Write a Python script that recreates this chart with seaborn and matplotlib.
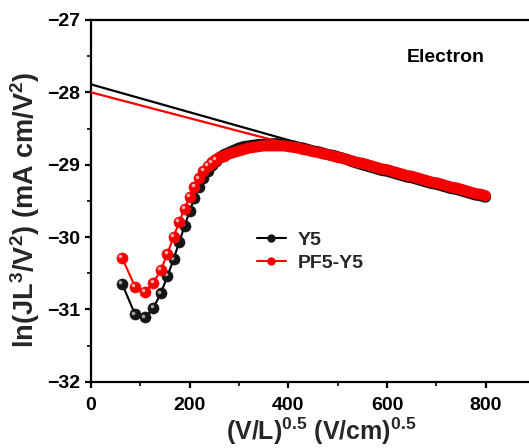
import numpy as np
import pandas as pd
import matplotlib
matplotlib.use("Agg")
import matplotlib.pyplot as plt
import matplotlib.transforms as mtransforms
from matplotlib.lines import Line2D
from matplotlib.ticker import MultipleLocator
import seaborn as sns

# sqrt(V/L) field axis, (V/cm)^0.5
field = [63.2, 89.4, 109.5, 126.5, 141.4, 154.9, 167.3, 178.9, 189.7, 200.0,
         209.8, 219.1, 228.0, 236.6, 244.9, 253.0, 260.8,
         270, 280, 290, 300, 310, 320, 330, 340, 350, 360, 370, 380, 390, 400,
         410, 420, 430, 440, 450, 460, 470, 480, 490, 500, 510, 520, 530, 540,
         550, 560, 570, 580, 590, 600, 610, 620, 630, 640, 650, 660, 670, 680,
         690, 700, 710, 720, 730, 740, 750, 760, 770, 780, 790, 800]

# ln(JL^3/V^2) for electron-only devices
y5 = [-30.65, -31.07, -31.11, -30.98, -30.78, -30.54, -30.31, -30.07, -29.85, -29.64,
      -29.46, -29.31, -29.19, -29.09, -29.01, -28.95, -28.90,
      -28.86, -28.83, -28.80, -28.77, -28.75, -28.74, -28.73, -28.72, -28.72,
      -28.71, -28.71, -28.71, -28.72, -28.73, -28.74, -28.76, -28.77, -28.79,
      -28.81, -28.82, -28.84, -28.86, -28.87, -28.89, -28.91, -28.93, -28.96,
      -28.98, -29.00, -29.02, -29.04, -29.06, -29.08, -29.09, -29.11, -29.13,
      -29.15, -29.17, -29.18, -29.20, -29.22, -29.24, -29.26, -29.27, -29.29,
      -29.31, -29.33, -29.34, -29.36, -29.38, -29.40, -29.42, -29.43, -29.45]

pf5_y5 = [-30.29, -30.69, -30.76, -30.63, -30.46, -30.23, -30.00, -29.79, -29.61, -29.45,
          -29.31, -29.19, -29.09, -29.02, -28.97, -28.93, -28.90,
          -28.88, -28.85, -28.83, -28.81, -28.79, -28.77, -28.76, -28.75, -28.74,
          -28.74, -28.74, -28.74, -28.74, -28.75, -28.76, -28.77, -28.79, -28.80,
          -28.82, -28.83, -28.85, -28.86, -28.88, -28.90, -28.91, -28.93, -28.95,
          -28.97, -28.98, -29.00, -29.02, -29.04, -29.06, -29.07, -29.09, -29.11,
          -29.13, -29.15, -29.16, -29.18, -29.20, -29.22, -29.24, -29.25, -29.27,
          -29.29, -29.31, -29.32, -29.34, -29.36, -29.38, -29.40, -29.41, -29.43]

# Poole-Frenkel linear fits (end points)
fit_x = [0, 800]
fit_y5 = [-27.89, -29.43]
fit_pf5_y5 = [-28.00, -29.43]

labels = ["Y5", "PF5-Y5"]
n_sparse = 16   # points that stay visually separate; the rest merge into a band

sns.set_style("ticks")
plt.rcParams["font.family"] = ["Liberation Sans", "DejaVu Sans"]
plt.rcParams["font.weight"] = "bold"
plt.rcParams["mathtext.fontset"] = "custom"
plt.rcParams["mathtext.rm"] = "Liberation Sans:bold"
plt.rcParams["mathtext.bf"] = "Liberation Sans:bold"
plt.rcParams["mathtext.it"] = "Liberation Sans:bold"
plt.rcParams["mathtext.default"] = "bf"

fig = plt.figure(figsize=(5.29, 4.48), dpi=100)
ax = fig.add_axes([91 / 529, 1 - 381.7 / 448, 1 - 91 / 529, (381.7 - 20) / 448])

df = pd.DataFrame({"x": field, "Y5": y5, "PF5-Y5": pf5_y5})
fit = pd.DataFrame({"x": fit_x, "Y5": fit_y5, "PF5-Y5": fit_pf5_y5})
sparse = df.iloc[:n_sparse + 2]
dense = df.iloc[n_sparse - 2:]

styles = {
    "Y5": dict(color="black", face="#161616", hi="#a0a0a0", z=3),
    "PF5-Y5": dict(color="#ff0000", face="#f40000", hi="#ffa8a8", z=5),
}

ms = 8.0
for name in labels:
    st = styles[name]
    # linear fit
    sns.lineplot(data=fit, x="x", y=name, ax=ax, color=st["color"], linewidth=1.6,
                 sort=False, estimator=None, zorder=st["z"] - 1, legend=False)
    # connecting line through all points
    sns.lineplot(data=df, x="x", y=name, ax=ax, color=st["color"], linewidth=1.5,
                 sort=False, estimator=None, zorder=st["z"], legend=False)
    # overlapping spheres at high field fuse into a solid band
    ax.plot(dense["x"], dense[name], color=st["face"], linewidth=ms,
            solid_capstyle="round", solid_joinstyle="round", zorder=st["z"])
    # separated spheres at low field
    ax.plot(sparse["x"], sparse[name], linestyle="none", marker="o", markersize=ms,
            markerfacecolor=st["face"], markeredgecolor=st["face"],
            markeredgewidth=0.4, zorder=st["z"])
    # specular spot on the separated spheres
    off = mtransforms.offset_copy(ax.transData, fig=fig, x=-1.3, y=1.3, units="points")
    ax.plot(df["x"][:n_sparse], df[name][:n_sparse], linestyle="none",
            marker="o", markersize=2.6, markerfacecolor=st["hi"],
            markeredgewidth=0, transform=off, zorder=st["z"] + 0.5)

ax.set_xlim(0, 888)
ax.set_ylim(-32, -27)
ax.xaxis.set_major_locator(MultipleLocator(200))
ax.xaxis.set_minor_locator(MultipleLocator(100))
ax.yaxis.set_major_locator(MultipleLocator(1))
ax.yaxis.set_minor_locator(MultipleLocator(0.5))

for side in ["left", "bottom", "top"]:
    ax.spines[side].set_linewidth(1.6)
    ax.spines[side].set_color("black")
ax.spines["right"].set_visible(False)

ax.tick_params(axis="both", which="major", direction="out", length=4, width=1.6,
               labelsize=14, colors="black")
ax.tick_params(axis="both", which="minor", direction="out", length=3, width=1.4)
ax.tick_params(axis="x", which="major", pad=7)
ax.tick_params(axis="y", which="major", pad=4)
ax.tick_params(top=False, right=False, which="both")
for lab in ax.get_xticklabels() + ax.get_yticklabels():
    lab.set_fontweight("bold")

ax.set_xlabel(r"(V/L)$^{0.5}$ (V/cm)$^{0.5}$", fontsize=18, fontweight="bold")
ax.set_ylabel(r"ln(JL$^3$/V$^2$) (mA cm/V$^2$)", fontsize=19.5, fontweight="bold")
ax.xaxis.set_label_coords((321 - 91) / 438, -0.095)
ax.yaxis.set_label_coords(-0.112, 0.475)

handles = [
    Line2D([], [], color=styles[n]["color"], linewidth=1.5, marker="o", markersize=6,
           markerfacecolor=styles[n]["face"], markeredgecolor=styles[n]["face"],
           markeredgewidth=0)
    for n in labels
]
ax.legend(handles, labels, loc="upper left", bbox_to_anchor=(0.378, 0.415),
          frameon=False, prop={"weight": "bold", "size": 14},
          handlelength=1.5, handletextpad=0.6, labelspacing=0.25,
          borderaxespad=0, borderpad=0)

ax.text(0.721, 0.895, "Electron", transform=ax.transAxes, ha="left", va="center",
        fontsize=14, fontweight="bold", color="black")

fig.savefig("out.png", dpi=100)
